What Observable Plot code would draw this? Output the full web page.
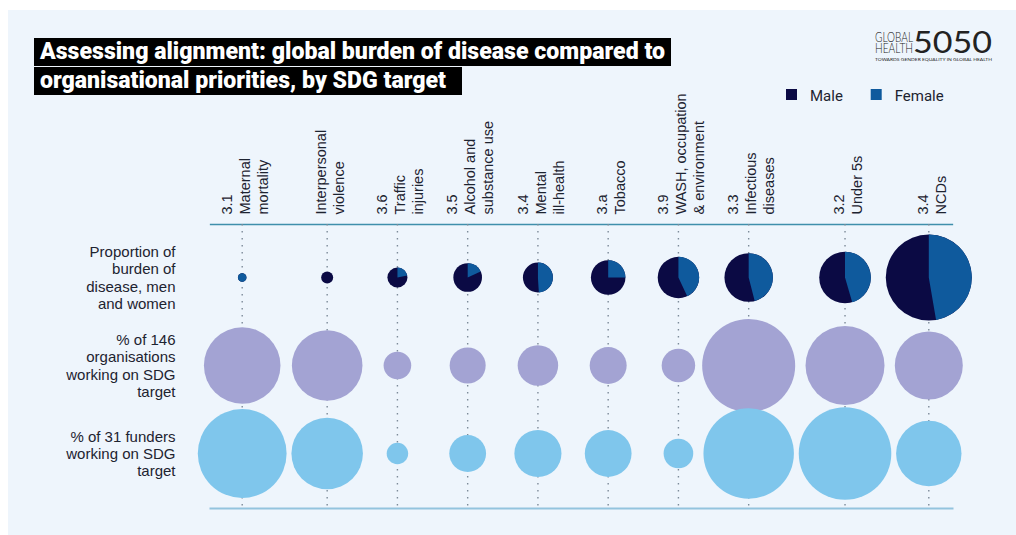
<!DOCTYPE html>
<html><head><meta charset="utf-8">
<script src="https://cdn.jsdelivr.net/npm/d3@7"></script>
<script src="https://cdn.jsdelivr.net/npm/@observablehq/plot@0.6"></script>
<style>
html,body{margin:0;padding:0;background:#fff;}
#panel{position:absolute;left:8px;top:10px;width:1008px;height:525px;background:#eef5fc;overflow:hidden;}
#head{position:absolute;left:0;top:0;}
#chart{position:absolute;left:0;top:0;}
</style></head>
<body>
<div id="panel">
<div id="chart"></div>
<svg id="head" width="1008" height="100">
  <rect x="26" y="28" width="637" height="28" fill="#000"/>
  <rect x="26" y="57" width="428" height="28" fill="#000"/>
  <text x="32" y="49" textLength="625" lengthAdjust="spacingAndGlyphs" fill="#fff" font-family="Roboto" font-weight="900" font-size="23">Assessing alignment: global burden of disease compared to</text>
  <text x="32" y="78" textLength="406" lengthAdjust="spacingAndGlyphs" fill="#fff" font-family="Roboto" font-weight="900" font-size="23">organisational priorities, by SDG target</text>
  <g fill="#222" font-family="Lato">
    <text x="867" y="31.7" font-size="13" font-weight="300" textLength="38" lengthAdjust="spacingAndGlyphs">GLOBAL</text>
    <text x="867" y="43.3" font-size="13" font-weight="300" textLength="38" lengthAdjust="spacingAndGlyphs">HEALTH</text>
    <text x="905" y="43.3" font-size="30" font-weight="400" textLength="79" lengthAdjust="spacingAndGlyphs">5050</text>
    <text x="867" y="51" font-size="4.4" font-weight="400" textLength="117" lengthAdjust="spacingAndGlyphs">TOWARDS GENDER EQUALITY IN GLOBAL HEALTH</text>
  </g>
  <g id="legend" font-family="Roboto" font-size="15" fill="#1d2330"></g>
</svg>
</div>
<script>
// ---- data ----
const categories = ["Maternal mortality","Interpersonal violence","Traffic injuries","Alcohol and substance use","Mental ill-health","Tobacco","WASH, occupation & environment","Infectious diseases","Under 5s","NCDs"];
const targets = ["3.1","","3.6","3.5","3.4","3.a","3.9","3.3","3.2","3.4"];
const headerLines = [["Maternal","mortality"],["Interpersonal","violence"],["Traffic","injuries"],["Alcohol and","substance use"],["Mental","ill-health"],["Tobacco"],["WASH, occupation","& environment"],["Infectious","diseases"],["Under 5s"],["NCDs"]];
const burdenShare = [0.5, 1.0, 2.8, 5.7, 6.25, 8.3, 11.9, 16.3, 18.5, 51.4];   // % of burden of disease
const femaleShare = [1.0, 0.0, 0.22, 0.18, 0.49, 0.25, 0.43, 0.46, 0.455, 0.473]; // female part of burden
const orgShare = [40.7, 34.6, 5.3, 9.0, 11.4, 9.5, 7.8, 60.1, 43.3, 32.1];        // % of 146 organisations
const funderShare = [54.8, 35.5, 3.2, 9.4, 15.4, 15.2, 6.1, 56.8, 59.5, 29.7];   // % of 31 funders
const rows = ["burden","orgs","funders"];
const rowLabels = ["Proportion of\nburden of\ndisease, men\nand women","% of 146\norganisations\nworking on SDG\ntarget","% of 31 funders\nworking on SDG\ntarget"];
const sexes = ["Male","Female"];

// ---- styles ----
const sexColors = ["#0b0a44","#0f5a9d"];
const orgColor = "#a3a3d3";
const funderColor = "#7fc6ec";

// ---- legend ----
const leg = d3.select("#legend");
const legX = [778, 862.7];
sexes.forEach((s,i)=>{
  leg.append("rect").attr("x",legX[i]).attr("y",79).attr("width",11).attr("height",11).attr("fill",sexColors[i]);
  leg.append("text").attr("x",legX[i]+24).attr("y",90.5).text(s);
});

// ---- layout of columns derived from bubble sizes ----
const rDomain = [0,100], rRange = [0,60];
const rFn = d3.scaleSqrt(rDomain, rRange);
const rowVals = [burdenShare, orgShare, funderShare];
const xPos = [0];
for (let i = 1; i < categories.length; i++) {
  const need = d3.max(rowVals, v => rFn(v[i-1]) + rFn(v[i])) + 4.5;
  xPos.push(xPos[i-1] + Math.max(70, need));
}
const table = categories.map((c,i)=>({
  category:c, x:xPos[i],
  header:(targets[i] ? targets[i] + "\n" : "") + headerLines[i].join("\n"),
  burden:burdenShare[i], female:femaleShare[i], orgs:orgShare[i], funders:funderShare[i]
}));

function wedge(f){
  return {draw(ctx, size){
    const r = Math.sqrt(size/Math.PI);
    if (f >= 1) { ctx.moveTo(r,0); ctx.arc(0,0,r,0,2*Math.PI); ctx.closePath(); return; }
    const a0 = -Math.PI/2, a1 = a0 + 2*Math.PI*f;
    ctx.moveTo(0,0); ctx.lineTo(r*Math.cos(a0), r*Math.sin(a0));
    ctx.arc(0,0,r,a0,a1); ctx.closePath();
  }};
}

const femaleMarks = table.filter(d => d.female > 0).map(d =>
  Plot.dot([d], {x:"x", y:()=>"burden", r:"burden", fill:sexColors[1], symbol:wedge(d.female)}));

const chart = Plot.plot({
  width:1008, height:525,
  marginTop:214, marginBottom:27, marginLeft:202, marginRight:64,
  x:{type:"linear", domain:[0, xPos[xPos.length-1]], range:[233.7, 920.3], axis:null},
  y:{type:"point", domain:rows, range:[267.3, 443.3], padding:0, axis:null},
  r:{type:"sqrt", domain:rDomain, range:rRange},
  style:{background:"transparent", fontFamily:"'Liberation Sans', Arial, sans-serif", color:"#1d2330", overflow:"visible"},
  marks:[
    Plot.frame({anchor:"top", stroke:"#3f8fab", strokeWidth:1.3}),
    Plot.frame({anchor:"bottom", stroke:"#93c4de", strokeWidth:2}),
    Plot.ruleX(table, {x:"x", stroke:"#7d8b99", strokeWidth:1.4, strokeDasharray:"1.4,5.6"}),
    Plot.dot(table, {x:"x", y:()=>"orgs", r:"orgs", fill:orgColor}),
    Plot.dot(table, {x:"x", y:()=>"funders", r:"funders", fill:funderColor}),
    Plot.dot(table, {x:"x", y:()=>"burden", r:"burden", fill:sexColors[0]}),
    ...femaleMarks,
    Plot.axisY({tickSize:0, tickPadding:35, fontSize:15, lineHeight:1.15, label:null, tickFormat:d => rowLabels[rows.indexOf(d)]}),
    Plot.text(table, {x:"x", text:"header", frameAnchor:"top", rotate:-90, textAnchor:"start", lineAnchor:"middle", dy:-10, dx:2, fontSize:14.5, lineHeight:1.24})
  ]
});
document.getElementById("chart").appendChild(chart);
</script>
</body></html>
